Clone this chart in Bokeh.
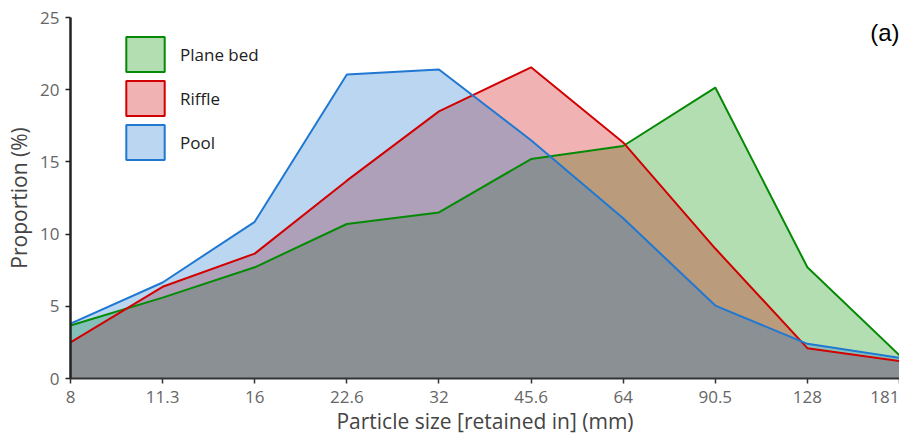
import numpy as np
from bokeh.plotting import figure
from bokeh.models import Range1d, FixedTicker, Legend, LegendItem, Label
from bokeh.embed import file_html
from bokeh.resources import INLINE

# Data
sizes = ["8", "11.3", "16", "22.6", "32", "45.6", "64", "90.5", "128", "181"]
plane_bed = [3.67, 5.6, 7.7, 10.7, 11.5, 15.2, 16.1, 20.15, 7.7, 1.6]
riffle = [2.5, 6.35, 8.65, 13.7, 18.5, 21.55, 16.35, 9.0, 2.1, 1.2]
pool = [3.8, 6.65, 10.85, 21.05, 21.4, 16.5, 11.1, 5.05, 2.4, 1.43]
y_ticks = [0, 5, 10, 15, 20, 25]
series_names = ["Plane bed", "Riffle", "Pool"]

x = list(range(len(sizes)))
series = [plane_bed, riffle, pool]
fill_colors = ["#009100", "#cd0000", "#1c76cd"]
line_colors = ["#058a05", "#d20000", "#1f78d2"]

FONT = "Open Sans"

p = figure(width=899, height=439,
           x_range=Range1d(0, len(sizes) - 1), y_range=Range1d(0, 25),
           output_backend="svg", toolbar_location=None,
           min_border_left=70, min_border_right=0,
           min_border_top=17, min_border_bottom=61)
p.outline_line_color = None
p.grid.visible = False
p.background_fill_color = "white"
p.border_fill_color = "white"

for vals, fc in zip(series, fill_colors):
    p.varea(x=x, y1=0, y2=vals, fill_color=fc, fill_alpha=0.3)
for vals, lc in zip(series, line_colors):
    p.line(x=x, y=vals, line_color=lc, line_width=2)

# legend-only proxies (no visible data)
items = []
for name, fc, lc in zip(series_names, fill_colors, line_colors):
    r = p.patch(x=np.array([np.nan]), y=np.array([np.nan]), fill_color=fc, fill_alpha=0.3,
                line_color=lc, line_width=2)
    items.append(LegendItem(label=name, renderers=[r]))

legend = Legend(items=items, location=(51, 214), glyph_width=48, glyph_height=44,
                spacing=0, padding=0, margin=0, label_standoff=11,
                border_line_color=None, background_fill_alpha=0,
                label_text_font=FONT, label_text_font_size="17px",
                label_text_color="#222222", label_text_baseline="middle")
p.add_layout(legend)

# x axis
xa = p.xaxis[0]
xa.ticker = FixedTicker(ticks=x)
xa.major_label_overrides = {i: s for i, s in enumerate(sizes)}
xa.axis_label = "Particle size [retained in] (mm)"
xa.axis_line_color = "#333333"
xa.axis_line_width = 2
xa.major_tick_line_color = "#333333"
xa.major_tick_line_width = 1.5
xa.major_tick_out = 5
xa.major_tick_in = 0
xa.minor_tick_line_color = None
xa.major_label_standoff = 7
xa.axis_label_standoff = 1

# y axis
ya = p.yaxis[0]
ya.ticker = FixedTicker(ticks=y_ticks)
ya.axis_label = "Proportion (%)"
ya.axis_line_color = "#222222"
ya.axis_line_width = 2.5
ya.major_tick_line_color = "#222222"
ya.major_tick_line_width = 1.5
ya.major_tick_out = 5
ya.major_tick_in = 0
ya.minor_tick_line_color = None
ya.major_label_standoff = 6
ya.axis_label_standoff = 4

for ax in (xa, ya):
    ax.major_label_text_font = FONT
    ax.major_label_text_font_size = "17px"
    ax.major_label_text_color = "#666666"
    ax.axis_label_text_font = FONT
    ax.axis_label_text_font_size = "21px"
    ax.axis_label_text_font_style = "normal"
    ax.axis_label_text_color = "#444444"

p.add_layout(Label(x=len(sizes) - 1, y=23.96, text="(a)", text_align="right",
                   text_baseline="middle", text_font="Liberation Sans",
                   text_font_size="24px", text_color="black"))

open("out.html", "w").write(file_html(p, INLINE))
